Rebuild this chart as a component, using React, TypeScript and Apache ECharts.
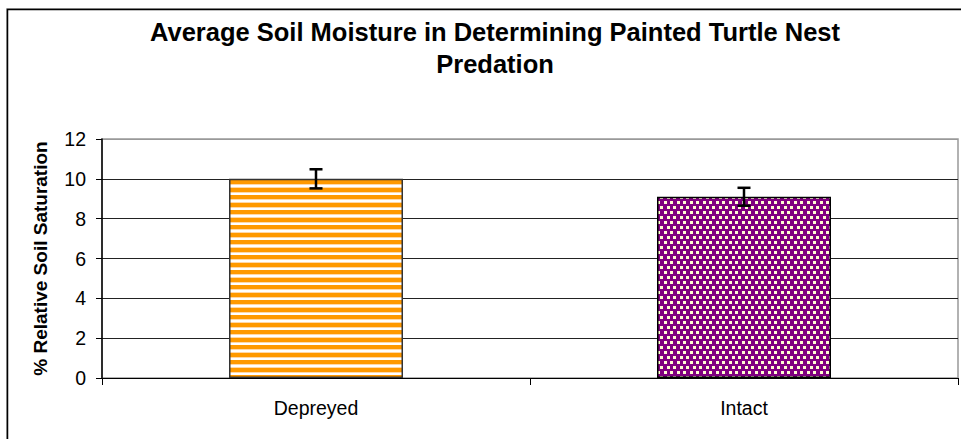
import React, { useEffect, useRef } from "react";
import * as echarts from "echarts";

const categories = ["Depreyed", "Intact"];
const values = [10.0, 9.1];
const errors = [0.48, 0.45];
const yMin = 0;
const yMax = 12;
const yInterval = 2;
const titleText = "Average Soil Moisture in Determining Painted Turtle Nest\nPredation";
const yAxisTitle = "% Relative Soil Saturation";

const FONT = '"Liberation Sans", Arial, sans-serif';

function stripePattern(): HTMLCanvasElement {
  const c = document.createElement("canvas");
  const rows = ["O", "O", "O", "O", "L", "W", "W", "L", "O", "O", "O", "O", "L", "W", "W"];
  c.width = 8;
  c.height = rows.length;
  const ctx = c.getContext("2d")!;
  const col: Record<string, string> = { O: "#FF9900", L: "#FFD8A8", W: "#FFFFFF" };
  rows.forEach((r, i) => {
    ctx.fillStyle = col[r];
    ctx.fillRect(0, i, 8, 1);
  });
  return c;
}

function dotPattern(): HTMLCanvasElement {
  const c = document.createElement("canvas");
  c.width = 13;
  c.height = 10;
  const ctx = c.getContext("2d")!;
  ctx.fillStyle = "#800080";
  ctx.fillRect(0, 0, 13, 10);
  const squares = [
    [1, 1],
    [7, 1],
    [4, 6],
    [10, 6],
  ];
  squares.forEach(([x, y]) => {
    ctx.fillStyle = "#FFF4E0";
    ctx.fillRect(x, y, 3, 3);
    ctx.fillStyle = "#FFFFCC";
    ctx.fillRect(x + 1, y, 2, 3);
  });
  return c;
}

export default function App() {
  const ref = useRef<HTMLDivElement>(null);
  useEffect(() => {
    if (!ref.current) return;
    const chart = echarts.init(ref.current, null, { renderer: "svg" });
    const stripes = stripePattern();
    const dots = dotPattern();
    const barColors = [
      { image: stripes, repeat: "repeat" },
      { image: dots, repeat: "repeat" },
    ];
    const borderColors = ["#333333", "#000000"];
    const option: any = {
      animation: false,
      backgroundColor: "#ffffff",
      title: {
        text: titleText,
        left: 490,
        top: 11,
        textAlign: "center",
        textStyle: {
          fontFamily: FONT,
          fontSize: 25.5,
          fontWeight: "bold",
          color: "#000",
          lineHeight: 32,
        },
      },
      graphic: [
        {
          type: "polyline",
          shape: { points: [[6.5, 439], [6.5, 8.5], [961, 8.5]] },
          style: { fill: "none", stroke: "#aaaaaa", lineWidth: 1 },
          silent: true,
        },
        {
          type: "polyline",
          shape: { points: [[7.5, 439], [7.5, 9.5], [961, 9.5]] },
          style: { fill: "none", stroke: "#000000", lineWidth: 1.5 },
          silent: true,
        },
      ],
      grid: {
        left: 102,
        right: 3,
        top: 139,
        bottom: 61,
        show: true,
        borderColor: "#999999",
        borderWidth: 1.5,
        backgroundColor: "transparent",
      },
      xAxis: {
        type: "category",
        data: categories,
        axisLine: { show: true, lineStyle: { color: "#000", width: 1 } },
        axisTick: { show: true, length: 7, lineStyle: { color: "#000" } },
        axisLabel: {
          fontFamily: FONT,
          fontSize: 19.5,
          color: "#000",
          margin: 20,
        },
        splitLine: { show: false },
      },
      yAxis: {
        type: "value",
        min: yMin,
        max: yMax,
        interval: yInterval,
        name: yAxisTitle,
        nameLocation: "middle",
        nameGap: 52,
        nameTextStyle: {
          fontFamily: FONT,
          fontSize: 19,
          fontWeight: "bold",
          color: "#000",
        },
        axisLine: { show: true, lineStyle: { color: "#000", width: 1.5 } },
        axisTick: { show: true, length: 6, lineStyle: { color: "#000" } },
        axisLabel: {
          fontFamily: FONT,
          fontSize: 19.5,
          color: "#000",
          margin: 16,
        },
        splitLine: {
          show: true,
          lineStyle: {
            color: ["#222", "#222", "#222", "#222", "#222", "#222", "#999"],
            width: 1,
          },
        },
      },
      series: [
        {
          type: "bar",
          barWidth: 174,
          data: values.map((v, i) => ({
            value: v,
            itemStyle: {
              color: barColors[i],
              borderColor: borderColors[i],
              borderWidth: 1.5,
            },
          })),
        },
        {
          type: "custom",
          data: values.map((v, i) => [i, v, errors[i]]),
          z: 10,
          renderItem: (params: any, api: any) => {
            const idx = api.value(0);
            const v = api.value(1);
            const e = api.value(2);
            const top = api.coord([idx, v + e]);
            const bot = api.coord([idx, v - e]);
            const half = 6.5;
            const style = { stroke: "#000", lineWidth: 2.5 };
            return {
              type: "group",
              children: [
                { type: "line", shape: { x1: top[0], y1: top[1], x2: bot[0], y2: bot[1] }, style },
                { type: "line", shape: { x1: top[0] - half, y1: top[1], x2: top[0] + half, y2: top[1] }, style },
                { type: "line", shape: { x1: bot[0] - half, y1: bot[1], x2: bot[0] + half, y2: bot[1] }, style },
              ],
            };
          },
        },
      ],
    };
    chart.setOption(option);
    return () => chart.dispose();
  }, []);
  return (
    <div
      ref={ref}
      style={{ position: "fixed", left: 0, top: 0, width: 961, height: 439, background: "#fff" }}
    />
  );
}
